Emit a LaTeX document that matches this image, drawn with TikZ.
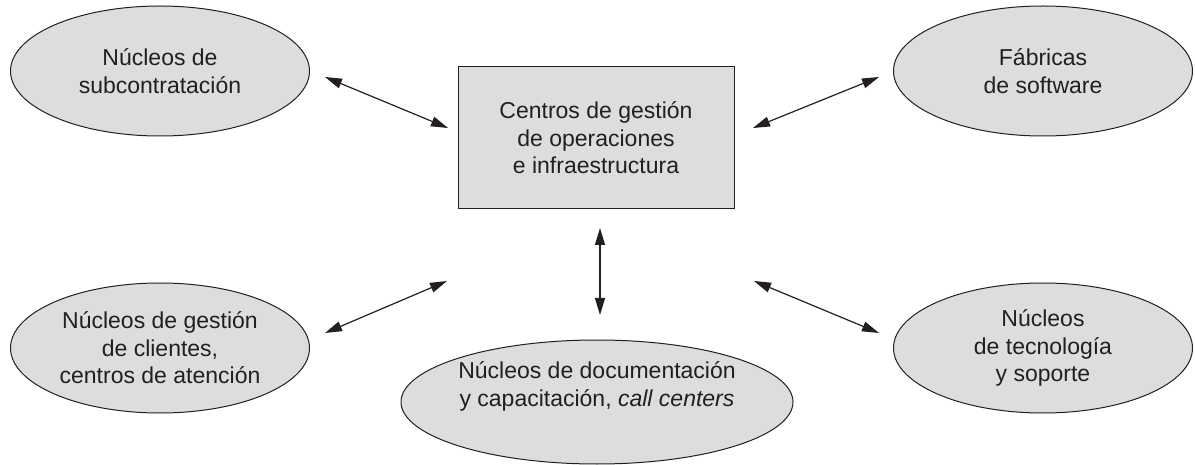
\documentclass[tikz,border=0pt]{standalone}
\usepackage{fontspec}
\setmainfont{Liberation Sans}
\usetikzlibrary{shapes.geometric,arrows.meta}
\definecolor{fillg}{HTML}{DCDDDE}
\definecolor{lineg}{HTML}{231F20}
\begin{document}
\begin{tikzpicture}[x=1pt,y=-1pt,
  oval/.style={ellipse,draw=lineg,line width=1pt,fill=fillg,inner sep=0pt,
    minimum width=299pt,minimum height=130pt,align=center,
    font=\fontsize{23}{27.5}\selectfont,text=lineg},
  boxnode/.style={rectangle,draw=lineg,line width=1pt,fill=fillg,inner sep=0pt,
    minimum width=276pt,minimum height=142pt,align=center,
    font=\fontsize{23}{27.5}\selectfont,text=lineg},
  txt/.style={align=center,font=\fontsize{23}{28}\selectfont,text=lineg,inner sep=0pt},
  link/.style={draw=lineg,line width=1.2pt,{Triangle[length=17pt,width=10pt]}-{Triangle[length=17pt,width=10pt]}}]
\useasboundingbox (0,0) rectangle (1195,465);
\node[oval] (e1) at (160,71) {Núcleos de\\subcontratación};
\node[oval] (e2) at (1043,71) {Fábricas\\de software};
\node[oval] (e3) at (160,348) {Núcleos de gestión\\de clientes,\\centros de atención};
\node[oval] (e4) at (1043,348) {Núcleos\\de tecnología\\y soporte};
\node[oval,minimum width=392pt,minimum height=124pt] (e5) at (597,402) {};
\node[txt] (t5) at (597,386) {Núcleos de documentación\\y capacitación, \textit{call centers}};
\node[boxnode] (c) at (596,138) {Centros de gestión\\de operaciones\\e infraestructura};
\coordinate (a1s) at (325,77);  \coordinate (a1e) at (448,128);
\coordinate (a2s) at (753,128); \coordinate (a2e) at (879,77);
\coordinate (a3s) at (325,333); \coordinate (a3e) at (447,281);
\coordinate (a4s) at (754,281); \coordinate (a4e) at (879,333);
\coordinate (a5s) at (600,228); \coordinate (a5e) at (600,315);
\draw[link] (a1s) -- (a1e);
\draw[link] (a2s) -- (a2e);
\draw[link] (a3s) -- (a3e);
\draw[link] (a4s) -- (a4e);
\draw[link] (a5s) -- (a5e);
\end{tikzpicture}
\end{document}
